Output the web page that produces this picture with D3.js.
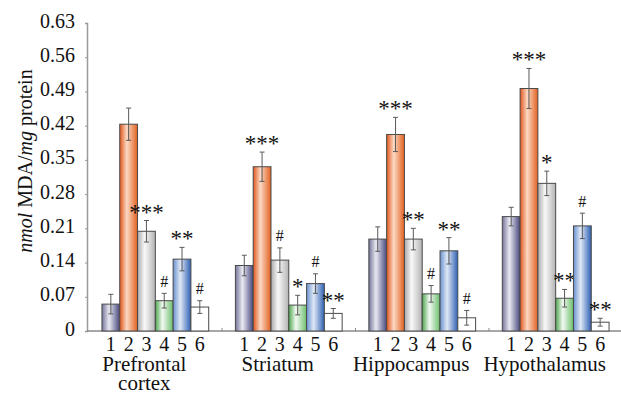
<!DOCTYPE html>
<html>
<head>
<meta charset="utf-8">
<script src="https://cdn.jsdelivr.net/npm/d3@7"></script>
<style>
  body { margin: 0; background: #fff; }
  text { font-family: "Liberation Serif", "Times New Roman", serif; fill: #111; }
</style>
</head>
<body>
<script>
// brain regions and the six groups per region
var regions = ["Prefrontal cortex", "Striatum", "Hippocampus", "Hypothalamus"];
var groups = ["1", "2", "3", "4", "5", "6"];
var yTicks = [0, 0.07, 0.14, 0.21, 0.28, 0.35, 0.42, 0.49, 0.56, 0.63];

// mean MDA per group (1..6) in each region
var prefrontalMean = [0.055, 0.423, 0.204, 0.062, 0.147, 0.049];
var striatumMean = [0.134, 0.336, 0.145, 0.053, 0.097, 0.036];
var hippocampusMean = [0.188, 0.402, 0.188, 0.076, 0.164, 0.027];
var hypothalamusMean = [0.234, 0.496, 0.302, 0.067, 0.215, 0.018];

// error (SEM)
var prefrontalErr = [0.020, 0.033, 0.022, 0.015, 0.024, 0.013];
var striatumErr = [0.021, 0.030, 0.025, 0.020, 0.020, 0.010];
var hippocampusErr = [0.025, 0.035, 0.022, 0.017, 0.027, 0.015];
var hypothalamusErr = [0.019, 0.041, 0.025, 0.018, 0.026, 0.008];

// significance marks
var prefrontalSig = ["", "", "***", "#", "**", "#"];
var striatumSig = ["", "***", "#", "*", "#", "**"];
var hippocampusSig = ["", "***", "**", "#", "**", "#"];
var hypothalamusSig = ["", "***", "*", "**", "#", "**"];

var means = [prefrontalMean, striatumMean, hippocampusMean, hypothalamusMean];
var errs = [prefrontalErr, striatumErr, hippocampusErr, hypothalamusErr];
var sigs = [prefrontalSig, striatumSig, hippocampusSig, hypothalamusSig];

var rows = [];
regions.forEach(function(r, i) {
    groups.forEach(function(g, j) {
        rows.push({region: r, group: g, value: means[i][j], err: errs[i][j], sig: sigs[i][j]});
    });
});

// gradient stops for each group (cylinder-like shading)
var gradStops = [
    ["#74749a", "#e9e9f2", "#48487e"],
    ["#e0561c", "#fcd9c4", "#e2601f"],
    ["#a9a9a9", "#f9f9f9", "#b3b3b3"],
    ["#4ea64e", "#f2f9f2", "#6cbf6c"],
    ["#6a92cf", "#dfe8f5", "#2e60b4"],
    ["#ffffff", "#ffffff", "#ffffff"]
];

var width = 621, height = 394;
var margin = {left: 87, right: 0, top: 23, bottom: 63};

var svg = d3.select("body").append("svg")
    .attr("width", width)
    .attr("height", height);

var defs = svg.append("defs");
gradStops.forEach(function(s, i) {
    var lg = defs.append("linearGradient")
        .attr("id", "grad" + i)
        .attr("x1", "0").attr("x2", "1").attr("y1", "0").attr("y2", "0");
    lg.append("stop").attr("offset", "0%").attr("stop-color", s[0]);
    lg.append("stop").attr("offset", "40%").attr("stop-color", s[1]);
    lg.append("stop").attr("offset", "100%").attr("stop-color", s[2]);
});

var x0 = d3.scaleBand()
    .domain(regions)
    .range([margin.left, width + 3])
    .paddingInner(0.2)
    .paddingOuter(0.112);

var x1 = d3.scaleBand()
    .domain(groups)
    .range([0, x0.bandwidth()]);

var y = d3.scaleLinear()
    .domain([0, 0.63])
    .range([height - margin.bottom, margin.top]);

// axes
var yAxis = svg.append("g")
    .attr("transform", "translate(" + margin.left + ",0)")
    .call(d3.axisLeft(y).tickValues(yTicks).tickSize(2)
        .tickFormat(function(d) { return d === 0 ? "0" : d3.format(".2f")(d); }));
yAxis.select(".domain").attr("stroke", "#9a9a9a").attr("stroke-width", 1.5);
yAxis.selectAll(".tick line").attr("stroke", "#9a9a9a");
yAxis.selectAll(".tick text")
    .attr("x", -12)
    .attr("dy", "0.2em")
    .style("font-size", "20px")
    .attr("fill", "#111");

svg.append("line")
    .attr("x1", margin.left)
    .attr("x2", width)
    .attr("y1", y(0))
    .attr("y2", y(0))
    .attr("stroke", "#8a8a8a")
    .attr("stroke-width", 1.5);

// small ticks between regions
svg.selectAll(".sep")
    .data(regions.slice(1))
    .enter()
    .append("line")
    .attr("x1", function(d) { return x0(d) - x0.step() * 0.1; })
    .attr("x2", function(d) { return x0(d) - x0.step() * 0.1; })
    .attr("y1", y(0) - 3)
    .attr("y2", y(0))
    .attr("stroke", "#8a8a8a");

var bar = svg.selectAll(".bar")
    .data(rows)
    .enter()
    .append("g")
    .attr("transform", function(d) { return "translate(" + (x0(d.region) + x1(d.group)) + ",0)"; });

bar.append("rect")
    .attr("x", 0)
    .attr("y", function(d) { return y(d.value); })
    .attr("width", x1.bandwidth())
    .attr("height", function(d) { return y(0) - y(d.value); })
    .attr("fill", function(d) { return "url(#grad" + groups.indexOf(d.group) + ")"; })
    .attr("stroke", "#4a4a4a")
    .attr("stroke-width", 1);

// error bars
var bw = x1.bandwidth();
bar.append("line")
    .attr("x1", bw / 2).attr("x2", bw / 2)
    .attr("y1", function(d) { return y(d.value + d.err); })
    .attr("y2", function(d) { return y(Math.max(0, d.value - d.err)); })
    .attr("stroke", "#5a5a5a");
bar.append("line")
    .attr("x1", bw / 2 - 2.5).attr("x2", bw / 2 + 2.5)
    .attr("y1", function(d) { return y(d.value + d.err); })
    .attr("y2", function(d) { return y(d.value + d.err); })
    .attr("stroke", "#5a5a5a");
bar.append("line")
    .attr("x1", bw / 2 - 2.5).attr("x2", bw / 2 + 2.5)
    .attr("y1", function(d) { return y(Math.max(0, d.value - d.err)); })
    .attr("y2", function(d) { return y(Math.max(0, d.value - d.err)); })
    .attr("stroke", "#5a5a5a");

// significance marks
bar.append("text")
    .attr("x", bw / 2)
    .attr("y", function(d) {
        return y(d.value + d.err) - (d.sig === "#" ? 6.5 : 1);
    })
    .attr("text-anchor", "middle")
    .style("font-size", function(d) { return d.sig === "#" ? "16px" : "23px"; })
    .text(function(d) { return d.sig; });

// group numbers under bars
bar.append("text")
    .attr("x", bw / 2)
    .attr("y", y(0) + 20)
    .attr("text-anchor", "middle")
    .style("font-size", "20px")
    .text(function(d) { return d.group; });

// region names
var names = svg.selectAll(".region")
    .data(regions)
    .enter()
    .append("text")
    .attr("x", function(d) { return x0(d) + x0.bandwidth() / 2 - 11; })
    .attr("y", y(0) + 40)
    .attr("text-anchor", "middle")
    .style("font-size", "21px");
names.each(function(d) {
    var parts = d === "Prefrontal cortex" ? ["Prefrontal", "cortex"] : [d];
    var t = d3.select(this);
    parts.forEach(function(p, i) {
        t.append("tspan")
            .attr("x", t.attr("x"))
            .attr("dy", i === 0 ? 0 : 19)
            .text(p);
    });
});

// y axis title
var title = svg.append("text")
    .attr("transform", "translate(32," + ((y(0) + y(0.63)) / 2 - 16) + ") rotate(-90)")
    .attr("text-anchor", "middle")
    .style("font-size", "20px");
title.append("tspan").style("font-style", "italic").text("nmol");
title.append("tspan").text(" MDA/");
title.append("tspan").style("font-style", "italic").text("mg");
title.append("tspan").text(" protein");
</script>
</body>
</html>
